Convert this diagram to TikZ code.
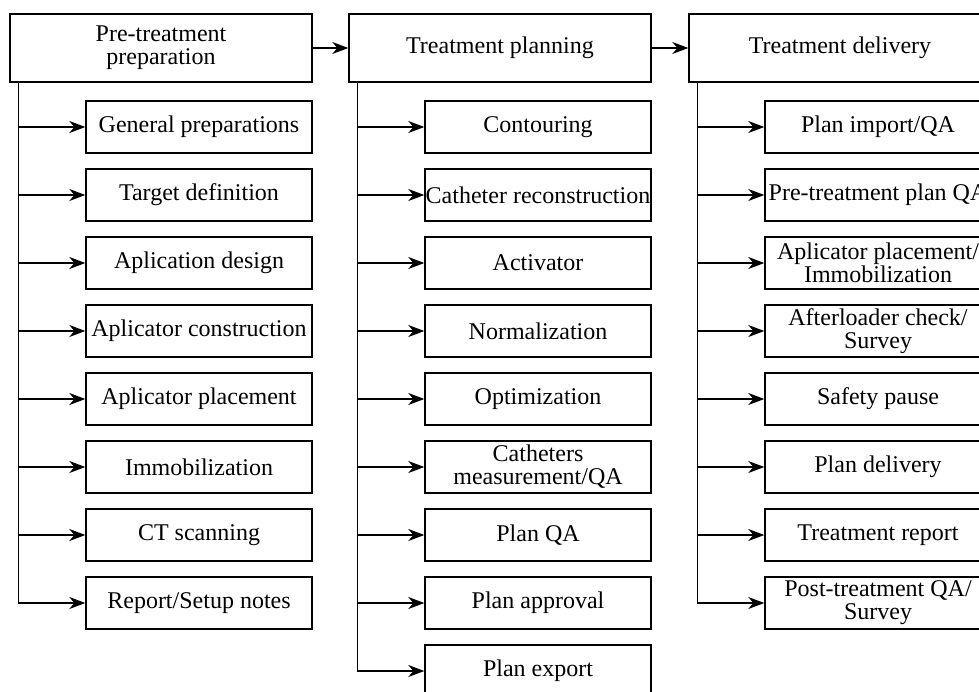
\documentclass[tikz,border=0pt]{standalone}
\usepackage{fontspec}
\setmainfont{Liberation Serif}
\usetikzlibrary{
  arrows.meta
  }

\begin{document}
\begin{tikzpicture}[x=0.5pt, y=-0.5pt]
  \tikzstyle{every node}=[font=\fontsize{12}{11.4}\selectfont]
  \tikzstyle{phase}=[draw, line width=0.7pt, minimum width=151pt, minimum height=34pt, align=center, inner sep=0pt]
  \tikzstyle{task}=[draw, line width=0.7pt, minimum width=113pt, minimum height=26pt, align=center, inner sep=0pt]
  \tikzstyle{link}=[line width=0.7pt, -{Stealth[length=8pt, width=6pt, inset=2.5pt]}]
  \useasboundingbox (0,0) rectangle (979,691);
  \clip (0,0) rectangle (979,691);
  %
  \node[phase] (prep) at (161,48) {Pre-treatment\\preparation};
  \node[phase] (plan) at (500,48) {Treatment planning};
  \node[phase] (deliv) at (840,48) {Treatment delivery};
  \draw[link] (prep) -- (plan);
  \draw[link] (plan) -- (deliv);
  %
  \foreach \t [count=\i] in {General preparations, Target definition,
      Aplication design, Aplicator construction, Aplicator placement,
      Immobilization, CT scanning, Report/Setup notes}{
    \node[task] (prep-\i) at (199,59+68*\i) {\t};
    \draw[link] ([xshift=4.5pt]prep.south west) |- (prep-\i.west);
  }
  \foreach \t [count=\i] in {Contouring, Catheter reconstruction, Activator,
      Normalization, Optimization, {Catheters\\measurement/QA}, Plan QA,
      Plan approval, Plan export}{
    \node[task] (plan-\i) at (538,59+68*\i) {\t};
    \draw[link] ([xshift=4.5pt]plan.south west) |- (plan-\i.west);
  }
  \foreach \t [count=\i] in {Plan import/QA, Pre-treatment plan QA,
      {Aplicator placement/\\Immobilization}, {Afterloader check/\\Survey},
      Safety pause, Plan delivery, Treatment report,
      {Post-treatment QA/\\Survey}}{
    \node[task] (deliv-\i) at (878,59+68*\i) {\t};
    \draw[link] ([xshift=4.5pt]deliv.south west) |- (deliv-\i.west);
  }
  %
\end{tikzpicture}
\end{document}
